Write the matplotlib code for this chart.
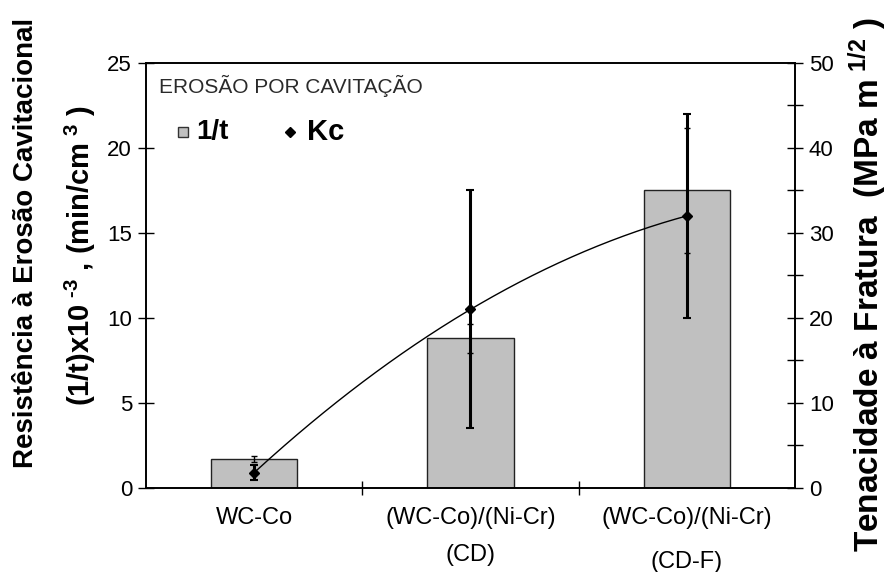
import numpy as np
import matplotlib.pyplot as plt
from matplotlib.ticker import MultipleLocator, FixedLocator

plt.rcParams['font.family'] = ['Liberation Sans', 'DejaVu Sans']
plt.rcParams['mathtext.default'] = 'regular'

# cavitation erosion resistance (1/t) and fracture toughness (Kc)
samples = ['WC-Co', '(WC-Co)/(Ni-Cr)\n(CD)', '(WC-Co)/(Ni-Cr)\n(CD-F)']
inv_t = [1.7, 8.8, 17.5]
inv_t_err = [0.2, 0.85, 3.7]
kc = [1.8, 21.0, 32.0]
kc_err = [0.9, 14.0, 12.0]

x = np.arange(len(samples))

fig = plt.figure(figsize=(8.93, 5.72), dpi=100)
ax = fig.add_axes([0.1635, 0.147, 0.7267, 0.743])
ax2 = ax.twinx()

ax.bar(x, inv_t, width=0.4, color='#c0c0c0', edgecolor='#222222', linewidth=1, zorder=2)
ax.errorbar(x, inv_t, yerr=inv_t_err, fmt='none', ecolor='black',
            elinewidth=1, capsize=2, capthick=1, zorder=3)

# smoothed curve through the Kc points
coef = np.polyfit(x, kc, 2)
xs = np.linspace(x[0], x[-1], 200)
ax2.plot(xs, np.polyval(coef, xs), color='black', linewidth=1, zorder=4)
ax2.errorbar(x, kc, yerr=kc_err, fmt='D', color='black', markersize=5,
             ecolor='black', elinewidth=2.2, capsize=3, capthick=1.5, zorder=5)

ax.set_xlim(-0.5, 2.5)
ax.set_ylim(0, 25)
ax2.set_ylim(0, 50)

ax.yaxis.set_major_locator(MultipleLocator(5))
ax2.yaxis.set_major_locator(MultipleLocator(10))
ax2.yaxis.set_minor_locator(MultipleLocator(5))

ax.set_xticks(x)
labels = ax.set_xticklabels(samples, fontsize=17, va='top')
labels[1].set_linespacing(1.85)
labels[2].set_linespacing(2.25)
ax.xaxis.set_minor_locator(FixedLocator([0.5, 1.5]))
ax.tick_params(axis='x', which='major', length=0, pad=14)
ax.tick_params(axis='x', which='minor', direction='inout', length=10, width=1)
ax.tick_params(axis='y', which='major', direction='inout', length=12, width=1,
               labelsize=16, pad=4)
ax2.tick_params(axis='y', which='both', direction='inout', length=12, width=1,
                labelsize=16, pad=4)

for a in (ax, ax2):
    for s in a.spines.values():
        s.set_linewidth(1.2)

# axis titles
fig.text(26 / 893, 1 - 243 / 572, 'Resistência à Erosão Cavitacional',
         rotation=90, fontsize=20, fontweight='bold', ha='center', va='center')
fig.text(80 / 893, 1 - 255 / 572,
         '(1/t)x10$^{\\ \u2010 3}$ , (min/cm$^{\\ 3}$ )',
         rotation=90, fontsize=21, fontweight='bold', ha='center', va='center')
fig.text(868 / 893, 1 - 285 / 572,
         r'Tenacidade à Fratura  (MPa m$^{\ 1/2}$ )',
         rotation=90, fontsize=24, fontweight='bold', ha='center', va='center')

# legend block in the upper left corner
ax.text(0.02, 0.945, 'EROSÃO POR CAVITAÇÃO', transform=ax.transAxes,
        fontsize=15, color='#2a2a2a', va='center', ha='left')
ax.plot([0.057], [0.838], transform=ax.transAxes, marker='s', markersize=7.5,
        markerfacecolor='#c0c0c0', markeredgecolor='#333333', linestyle='none')
ax.text(0.078, 0.838, '1/t', transform=ax.transAxes, fontsize=20,
        fontweight='bold', va='center', ha='left')
ax.plot([0.222], [0.838], transform=ax.transAxes, marker='D', markersize=5,
        color='black', linestyle='none')
ax.text(0.248, 0.838, 'Kc', transform=ax.transAxes, fontsize=21,
        fontweight='bold', va='center', ha='left')

fig.savefig('out.png', dpi=100)
